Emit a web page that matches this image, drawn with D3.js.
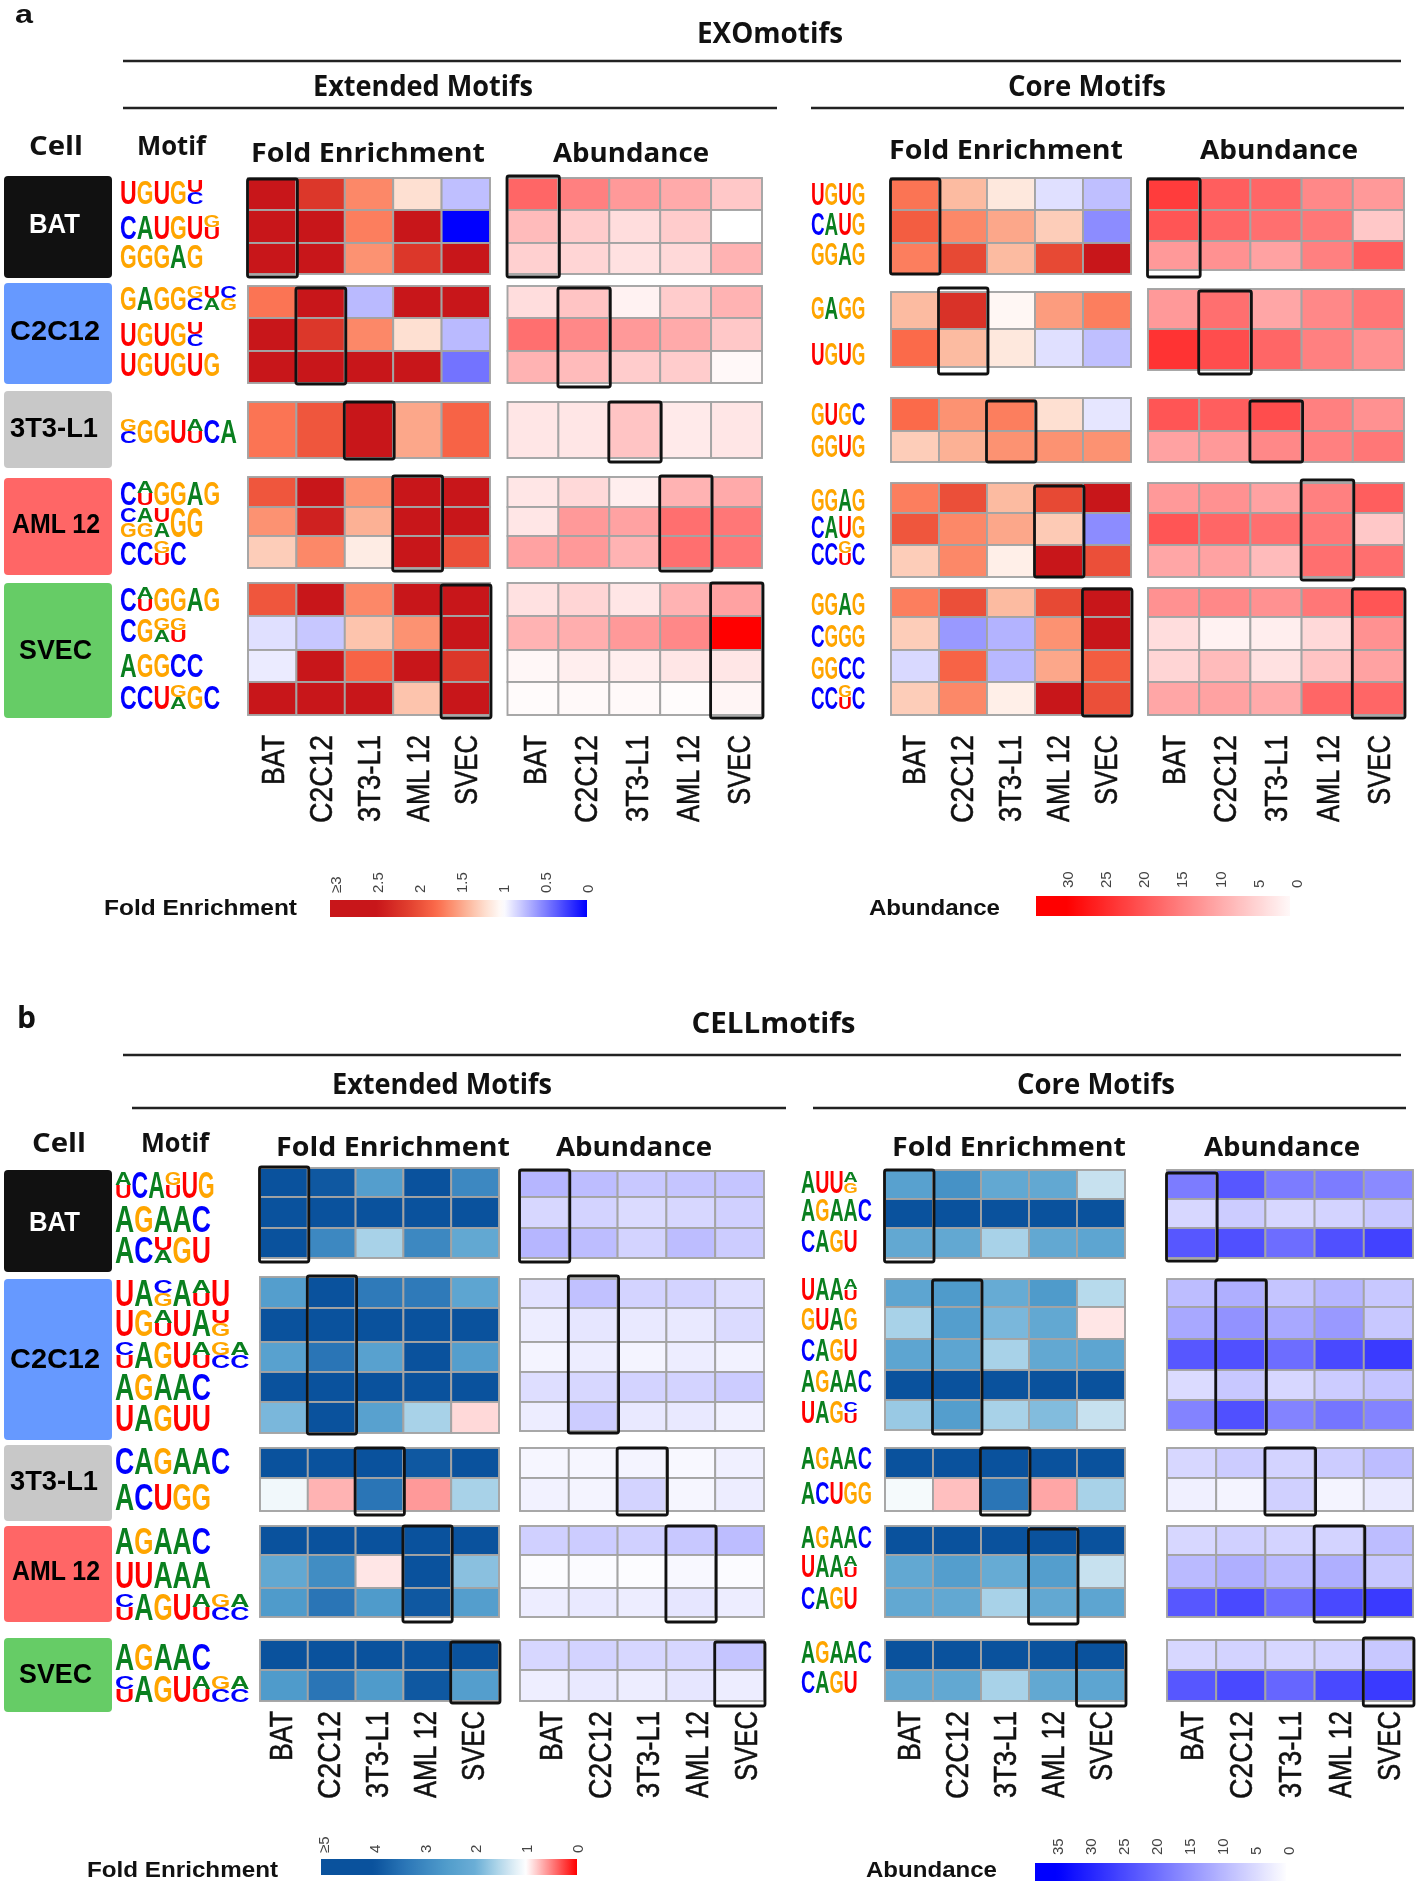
<!DOCTYPE html>
<html><head><meta charset="utf-8">
<script src="https://cdn.jsdelivr.net/npm/d3@7"></script>
<style>
html,body{margin:0;padding:0;background:#fff}
svg{display:block;filter:blur(0.55px)}
text{font-family:"Liberation Sans",Arial,sans-serif}
.hd{font-family:"Open Sans",sans-serif;font-weight:700}
.pl{font-family:"Liberation Sans",Arial,sans-serif;font-weight:700}
</style></head><body><div id="c"></div>
<script>
// ---------- DATA ----------
const cellLines = ["BAT","C2C12","3T3-L1","AML 12","SVEC"];
const cellFills = ["#111111","#6699ff","#c8c8c8","#ff6666","#66cc66"];
const cellInk   = ["#ffffff","#000000","#000000","#000000","#000000"];
const foldTicksRed = [3,2.5,2,1.5,1,0.5,0];
const foldTicksBlue = [5,4,3,2,1,0];
const abundTicksRed = [30,25,20,15,10,5,0];
const abundTicksBlue = [35,30,25,20,15,10,5,0];

const aExtMotifs = [
 ["UGUG[UC]","CAUGU[GU]","GGGAG"],
 ["GAGG[GC][UA][CG]","UGUG[UC]","UGUGUG"],
 ["[GC]GGU[AU]CA"],
 ["C[AU]GGAG","[CG][AG][UA]GG","CC[GU]C"],
 ["C[AU]GGAG","CG[GA][GU]","AGGCC","CCU[GA]GC"]];
const aCoreMotifs = [
 ["UGUG","CAUG","GGAG"],["GAGG","UGUG"],["GUGC","GGUG"],
 ["GGAG","CAUG","CC[GU]C"],["GGAG","CGGG","GGCC","CC[GU]C"]];
const bExtMotifs = [
 ["[AU]CA[GU]UG","AGAAC","AC[UA]GU"],
 ["UA[CG]A[AU]U","UG[AU]UA[UG]","[CU]AGU[AU][GC][AC]","AGAAC","UAGUU"],
 ["CAGAAC","ACUGG"],
 ["AGAAC","UUAAA","[CU]AGU[AU][GC][AC]"],
 ["AGAAC","[CU]AGU[AU][GC][AC]"]];
const bCoreMotifs = [
 ["AUU[AG]","AGAAC","CAGU"],
 ["UAA[AU]","GUAG","CAGU","AGAAC","UAG[CU]"],
 ["AGAAC","ACUGG"],
 ["AGAAC","UAA[AU]","CAGU"],
 ["AGAAC","CAGU"]];

const aExtFold = [
 [[2.6,2.2,1.65,1.2,.75],[2.6,2.6,1.7,2.6,0],[2.6,2.6,1.6,2.2,2.6]],
 [[1.75,2.6,.73,2.6,2.6],[2.6,2.2,1.65,1.2,.73],[2.6,2.6,2.6,2.6,.45]],
 [[1.75,1.95,2.6,1.5,1.85]],
 [[1.95,2.6,1.6,2.6,2.6],[1.6,2.4,1.45,2.6,2.6],[1.3,1.65,1.12,2.6,2.0]],
 [[1.95,2.6,1.65,2.6,2.6],[.88,.78,1.35,1.6,2.6],[.92,2.6,1.85,2.6,2.2],[2.6,2.6,2.6,1.35,2.6]]];
const aExtAbund = [
 [[18,15,12,10,6.5],[8,6,4,6,0],[5.5,5,3.5,4.5,9]],
 [[4,7,1.5,6,9],[17,14,12,10,6.5],[9,8,6,6,.8]],
 [[3,3,7,2.5,3]],
 [[3,4.5,2,9,10],[3,12,11,17,16],[11,12,9,17,16]],
 [[3.5,5,3,9,11],[9,9.5,12,14,30],[1,2,2,3,3],[.5,.7,.7,.3,1.2]]];
const aCoreFold = [
 [[1.75,1.4,1.15,.88,.75],[1.9,1.65,1.5,1.3,.55],[1.7,2.05,1.4,2.05,2.5]],
 [[1.4,2.25,1.05,1.55,1.7],[1.8,1.4,1.15,.88,.75]],
 [[1.8,1.6,1.7,1.2,.9],[1.3,1.45,1.6,1.6,1.6]],
 [[1.7,2.0,1.4,2.05,2.5],[1.95,1.65,1.5,1.32,.55],[1.3,1.65,1.1,2.6,2.0]],
 [[1.7,2.0,1.4,2.05,2.5],[1.3,.6,.7,1.6,2.6],[.85,1.85,.72,1.5,1.9],[1.3,1.65,1.1,2.6,2.0]]];
const aCoreAbund = [
 [[23,19,18,14,12],[20,18,17,16,6.5],[12,13,11,15,19]],
 [[12,17,10.5,14,16],[24,21,18,15,13]],
 [[20,19,21,15,13],[11,12,14,15,16]],
 [[12,13,11,15,19],[20,18,17,16,6.5],[10.5,11,8,17,17]],
 [[13,14,13,16,20],[4,1.5,2,4.5,13],[5,8,3.5,7,11],[10.5,11,10,18,18]]];
const bExtFold = [
 [[4.2,3.9,2.5,4.2,3],[4.2,4.2,4.2,4.2,4.2],[4.2,3,1.6,3,2.2]],
 [[2.5,4.2,3.3,3.3,2.3],[4.2,4.2,4.2,4.2,4.2],[2.4,3.4,2.4,4,2.5],[4.2,4.2,4.2,4.2,4.2],[1.9,4.2,2.4,1.6,.85]],
 [[4.2,4.2,4.2,3.9,4.2],[1.1,.7,3.4,.6,1.6]],
 [[4.2,4.2,4.2,4.2,4.2],[2.2,2.9,.9,4.2,1.8],[2.6,3.4,2.6,3.9,2.5]],
 [[4.2,4.2,4.2,4.2,4.2],[2.6,3.4,2.6,3.9,2.5]]];
const bExtAbund = [
 [[10,9,7.5,8,8],[5.5,6,5,5.5,6.5],[10,9,6,9,7]],
 [[4,8.5,6,6,4.5],[2.5,3.5,3,3,5],[1.5,2.5,1.5,2.5,1.8],[4.5,5.5,6,6,7],[2.5,7,3,3,2]],
 [[1.2,1.2,1.5,1,2],[1.8,1.5,6,1.2,2.5]],
 [[6.5,7,6.5,7.5,9],[.4,.5,.4,1,.5],[2.5,3,2.5,3.5,2.5]],
 [[5.5,6,5.5,5.5,8],[2.3,3,2.5,3.5,2.5]]];
const bCoreFold = [
 [[2.4,2.8,2.2,2.2,1.4],[4.2,4.2,4.2,4.2,4.2],[2.2,2.2,1.6,2.2,2.3]],
 [[2.3,2.6,2.1,2.6,1.5],[1.6,2.5,1.9,2.2,.9],[2.3,2.3,1.6,2.2,2.3],[4.2,4.2,4.2,4.2,4.2],[1.7,2.5,1.6,1.85,1.4]],
 [[4.2,4.2,4.2,4.2,4.2],[1.07,.75,3.4,.65,1.6]],
 [[4.2,4.2,4.2,4.2,4.2],[2.2,2.5,2.1,2.5,1.4],[2.2,2.2,1.6,2.2,2.3]],
 [[4.2,4.2,4.2,4.2,4.2],[2.2,2.2,1.6,2.2,2.3]]];
const bCoreAbund = [
 [[18,23,18,18,16],[5.5,7,5.5,6,7.5],[23,24,20,24,26]],
 [[9,11,8,10,7.5],[12,15,12,14,7.5],[23,24,20,25,27],[5,7.5,5.5,7,8],[17,24,17,19,17]],
 [[5.5,7,6,7,9],[2,1.5,6.5,1.5,3]],
 [[5.5,6.5,6,6,9],[9.5,11,9.5,11,7.5],[23,25,20,25,27]],
 [[5.5,6,5.5,6,7.5],[23,25,21,25,27]]];

// ---------- COLOUR SCALES ----------
const foldRed = d3.scaleLinear()
  .domain([0,1,1.2,1.4,1.6,1.8,2.1,2.5,3])
  .range(["#0000ff","#ffffff","#fee0d2","#fcbba1","#fc9272","#fb6a4a","#e34230","#c8161a","#c8161a"]).clamp(true);
const foldBlue = d3.scaleLinear()
  .domain([0,1,1.3,1.6,2,2.6,3.4,4,5])
  .range(["#ff0000","#ffffff","#d6e9f3","#a8d2e8","#6baed6","#4f9bcb","#2a75b6","#0a529d","#0a529d"]).clamp(true);
const abundRed = d3.scaleLinear().domain([0,30]).range(["#ffffff","#ff0000"]).clamp(true);
const abundBlue = d3.scaleLinear().domain([0,35]).range(["#ffffff","#0000ff"]).clamp(true);

// ---------- LAYOUT ----------
const aExtRows = [[178,210,243,274],[286,318,351,383],[402,458],[477,507,536,568],[583,616,650,682,715]];
const aCoreFoldRows = [[178,210,243,274],[292,329,367],[398,431,462],[483,513,545,577],[588,617,650,682,715]];
const aCoreAbRows = [[178,210,241,270],[289,329,370],[398,431,462],[483,513,545,577],[588,617,650,682,715]];
const bExtFoldRows = [[1168,1197,1228,1258],[1277,1308,1342,1372,1402,1433],[1448,1478,1511],[1526,1555,1588,1617],[1640,1670,1701]];
const bExtAbRows = [[1171,1197,1228,1258],[1279,1308,1342,1372,1402,1431],[1448,1478,1511],[1526,1555,1588,1617],[1640,1670,1701]];
const bCoreRows = [[1170,1199,1228,1258],[1279,1307,1339,1370,1400,1430],[1448,1478,1511],[1526,1555,1588,1617],[1640,1670,1701]];

const panels = [
 {x:[248,490],rows:aExtRows,vals:aExtFold,col:foldRed,top:735,dx:0,box:[[179,277],[288,384],[402,459],[476,571],[585,718]]},
 {x:[507.5,762],rows:aExtRows,vals:aExtAbund,col:abundRed,top:735,dx:2,box:[[176,277],[288,387],[402,462],[476,571],[583,718]]},
 {x:[891,1131],rows:aCoreFoldRows,vals:aCoreFold,col:foldRed,top:735,dx:-1,box:[[179,274],[288,374],[401,462],[486,577],[589,716]]},
 {x:[1148,1404],rows:aCoreAbRows,vals:aCoreAbund,col:abundRed,top:735,dx:0,box:[[179,277],[291,374],[401,462],[480,580],[589,718]]},
 {x:[260,499],rows:bExtFoldRows,vals:bExtFold,col:foldBlue,top:1711,dx:-3,box:[[1167,1262],[1276,1434],[1448,1515],[1526,1622],[1642,1703]]},
 {x:[520,764],rows:bExtAbRows,vals:bExtAbund,col:abundBlue,top:1711,dx:6,box:[[1170,1262],[1276,1433],[1448,1515],[1526,1622],[1642,1706]]},
 {x:[885,1125],rows:bCoreRows,vals:bCoreFold,col:foldBlue,top:1711,dx:0,box:[[1170,1262],[1280,1434],[1448,1515],[1529,1624],[1642,1706]]},
 {x:[1167,1413],rows:bCoreRows,vals:bCoreAbund,col:abundBlue,top:1711,dx:0,box:[[1173,1261],[1280,1434],[1448,1515],[1526,1622],[1638,1706]]}
];
const tickLen = {"BAT":50,"C2C12":88,"3T3-L1":87,"AML 12":87,"SVEC":70};

const logos = [
 {mot:aExtMotifs,x:120,w:16.7,h:24,y:[[192,227,256],[298,334,364],[431],[493,522,553],[599,630,665,697]]},
 {mot:aCoreMotifs,x:811,w:13.6,h:23,y:[[193,223,253],[307,353],[413,445],[499,526,553],[603,635,667,697]]},
 {mot:bExtMotifs,x:115,w:19.2,h:26,y:[[1185,1219,1250],[1293,1323,1355,1387,1418],[1461,1497],[1541,1575,1607],[1657,1689]]},
 {mot:bCoreMotifs,x:801,w:14.2,h:22,y:[[1182,1210,1241],[1289,1319,1350,1381,1412],[1458,1493],[1537,1566,1598],[1652,1682]]}
];
const logoWidthOverride = {"[AU]CA[GU]UG":16.6};
const logoHeightOverride = {"[CG][AG][UA]GG":30};
const baseColor = {A:"#0a7f1f",C:"#0000ff",G:"#ffa500",U:"#ff0000"};
const glyphAdv = {A:.722,C:.722,G:.778,U:.722};

const cellBoxes = [
 {ys:[[176,278],[283,384],[391,468],[478,575],[583,718]],base:[233,340,437,533,659]},
 {ys:[[1170,1272],[1279,1440],[1445,1521],[1526,1622],[1638,1712]],base:[1231,1368,1490,1580,1683]}
];
const cellLabelX = [[29,80],[10,100],[10,98],[12,100],[19,92]];

const headings = [
 ["EXOmotifs",697,843,43,28],["Extended Motifs",313,533,96,28],["Core Motifs",1008,1166,96,28],
 ["Cell",29,83,155,27],["Motif",137,206,155,27],["Fold Enrichment",251,485,162,27],["Abundance",553,709,162,27],
 ["Fold Enrichment",889,1123,159,27],["Abundance",1200,1358,159,27],
 ["CELLmotifs",691.5,855.5,1033,28],["Extended Motifs",332,552,1094,28],["Core Motifs",1017,1175,1094,28],
 ["Cell",32,86,1152,27],["Motif",141,209,1152,27],["Fold Enrichment",276,510,1156,27],["Abundance",556,712,1156,27],
 ["Fold Enrichment",892,1126,1156,27],["Abundance",1204,1360,1156,27],
 ["b",17,36,1028,30]
];
const panelLetter = ["a",15,33,23,25];
const rules = [[123,1401,61],[123,777,108],[811,1404,108],[123,1401,1055],[132,786,1108],[813,1406,1108]];

const legends = [
 {title:"Fold Enrichment",tx:[104,297],tb:915,bar:[330,587,900,917],dom:[3,0],rng:[335,587],ticks:foldTicksRed,col:foldRed,tickY:893,fmt:d=>d===3?"\u22653":d},
 {title:"Abundance",tx:[869,1000],tb:915,bar:[1036,1290,896,916],dom:[30,0],rng:[1067,1296],ticks:abundTicksRed,col:abundRed,tickY:888,fmt:d=>d},
 {title:"Fold Enrichment",tx:[87,278],tb:1877,bar:[321,577,1859,1875],dom:[5,0],rng:[323,577],ticks:foldTicksBlue,col:foldBlue,tickY:1853,fmt:d=>d===5?"\u22655":d},
 {title:"Abundance",tx:[866,997],tb:1877,bar:[1035,1286,1863,1881],dom:[35,0],rng:[1057.5,1288],ticks:abundTicksBlue,col:abundBlue,tickY:1855,fmt:d=>d}
];

// ---------- DRAW ----------
const svg = d3.select("#c").append("svg").attr("width",1419).attr("height",1891).attr("viewBox","0 0 1419 1891");
svg.append("rect").attr("width",1419).attr("height",1891).attr("fill","#fff");
const defs = svg.append("defs");

// headings + rules
svg.append("g").selectAll("text").data(headings).join("text").attr("class","hd")
  .attr("x",d=>d[1]).attr("y",d=>d[3]).attr("font-size",d=>d[4]).attr("fill","#111")
  .attr("textLength",d=>d[2]-d[1]).attr("lengthAdjust","spacingAndGlyphs").text(d=>d[0]);
svg.append("text").attr("class","pl").attr("x",panelLetter[1]).attr("y",panelLetter[3])
  .attr("font-size",panelLetter[4]).attr("fill","#111")
  .attr("textLength",panelLetter[2]-panelLetter[1]).attr("lengthAdjust","spacingAndGlyphs").text(panelLetter[0]);
svg.append("g").selectAll("line").data(rules).join("line")
  .attr("x1",d=>d[0]).attr("x2",d=>d[1]).attr("y1",d=>d[2]).attr("y2",d=>d[2])
  .attr("stroke","#222").attr("stroke-width",2.6);

// cell-line boxes
cellBoxes.forEach(set=>{
  const g = svg.append("g");
  set.ys.forEach((yy,i)=>{
    g.append("rect").attr("x",4).attr("y",yy[0]).attr("width",108).attr("height",yy[1]-yy[0])
      .attr("rx",4).attr("fill",cellFills[i]);
    g.append("text").attr("x",cellLabelX[i][0]).attr("y",set.base[i]).attr("font-size",28)
      .attr("font-weight",700).attr("fill",cellInk[i])
      .attr("textLength",cellLabelX[i][1]-cellLabelX[i][0]).attr("lengthAdjust","spacingAndGlyphs")
      .text(cellLines[i]);
  });
});

// heatmaps
panels.forEach(p=>{
  const g = svg.append("g");
  const xs = d3.scaleBand().domain(cellLines).range(p.x).paddingInner(0);
  p.vals.forEach((grp,gi)=>{
    const ys = d3.scaleLinear().domain(d3.range(p.rows[gi].length)).range(p.rows[gi]);
    const cells = grp.flatMap((row,r)=>row.map((v,c)=>({v,r,c})));
    g.append("g").selectAll("rect").data(cells).join("rect")
      .attr("x",d=>xs(cellLines[d.c])).attr("y",d=>ys(d.r))
      .attr("width",xs.bandwidth()).attr("height",d=>ys(d.r+1)-ys(d.r))
      .attr("fill",d=>p.col(d.v)).attr("stroke","#a4a4a4").attr("stroke-width",1.9);
  });
  // highlight frames
  g.append("g").selectAll("rect").data(p.box).join("rect")
    .attr("x",(d,i)=>xs(cellLines[i])-0.5).attr("y",d=>d[0])
    .attr("width",xs.bandwidth()+1.5).attr("height",d=>d[1]-d[0])
    .attr("rx",2).attr("fill","none").attr("stroke","#111").attr("stroke-width",2.8);
  // axis
  const xt = d3.scaleBand().domain(cellLines).range([p.x[0]+p.dx,p.x[1]+p.dx]);
  const ax = g.append("g").attr("transform",`translate(0,${p.top})`).call(d3.axisBottom(xt).tickSize(0));
  ax.select(".domain").remove();
  ax.selectAll("text").attr("font-size",26).attr("font-family","Liberation Sans").attr("fill","#111")
    .attr("stroke","#111").attr("stroke-width",0.45)
    .attr("text-anchor","end").attr("x",0).attr("y",0).attr("dy","0.36em")
    .attr("textLength",d=>tickLen[d]).attr("lengthAdjust","spacingAndGlyphs")
    .attr("transform","rotate(-90) scale(1,1.22)");
});

// motif logos
function parseMotif(s){
  const out=[];let i=0;
  while(i<s.length){
    if(s[i]==="["){const j=s.indexOf("]",i);out.push(s.slice(i+1,j).split(""));i=j+1;}
    else{out.push([s[i]]);i++;}
  }
  return out;
}
logos.forEach(L=>{
  const g = svg.append("g");
  L.mot.forEach((grp,gi)=>grp.forEach((m,ri)=>{
    const w = logoWidthOverride[m]||L.w, h = logoHeightOverride[m]||L.h;
    const cy = L.y[gi][ri], fs = 20;
    parseMotif(m).forEach((stack,pi)=>{
      const sh = h/stack.length;
      stack.forEach((b,si)=>{
        const base = cy-h/2+sh*(si+1);
        const sx = w/(glyphAdv[b]*fs), sy = sh/(0.72*fs);
        g.append("text").attr("font-size",fs).attr("font-weight",700).attr("fill",baseColor[b])
          .attr("transform",`translate(${L.x+pi*w},${base}) scale(${sx},${sy})`).text(b);
      });
    });
  }));
});

// legends
legends.forEach((l,i)=>{
  const g = svg.append("g");
  g.append("text").attr("x",l.tx[0]).attr("y",l.tb).attr("font-size",22).attr("font-weight",700).attr("fill","#111")
    .attr("textLength",l.tx[1]-l.tx[0]).attr("lengthAdjust","spacingAndGlyphs").text(l.title);
  const sc = d3.scaleLinear().domain(l.dom).range(l.rng);
  const id = "lg"+i, [x0,x1,y0,y1] = l.bar;
  const gr = defs.append("linearGradient").attr("id",id);
  d3.range(0,1.0001,0.02).forEach(t=>{
    const px = x0+t*(x1-x0);
    gr.append("stop").attr("offset",t).attr("stop-color",l.col(sc.invert(px)));
  });
  g.append("rect").attr("x",x0).attr("y",y0).attr("width",x1-x0).attr("height",y1-y0).attr("fill",`url(#${id})`);
  const ax = g.append("g").attr("transform",`translate(0,${l.tickY})`)
    .call(d3.axisBottom(sc).tickValues(l.ticks).tickSize(0).tickFormat(l.fmt));
  ax.select(".domain").remove();
  ax.selectAll("text").attr("font-size",15).attr("font-family","Liberation Sans").attr("fill","#444")
    .attr("text-anchor","start").attr("x",0).attr("y",0).attr("dy","0.36em")
    .attr("transform","rotate(-90)");
});
</script></body></html>
